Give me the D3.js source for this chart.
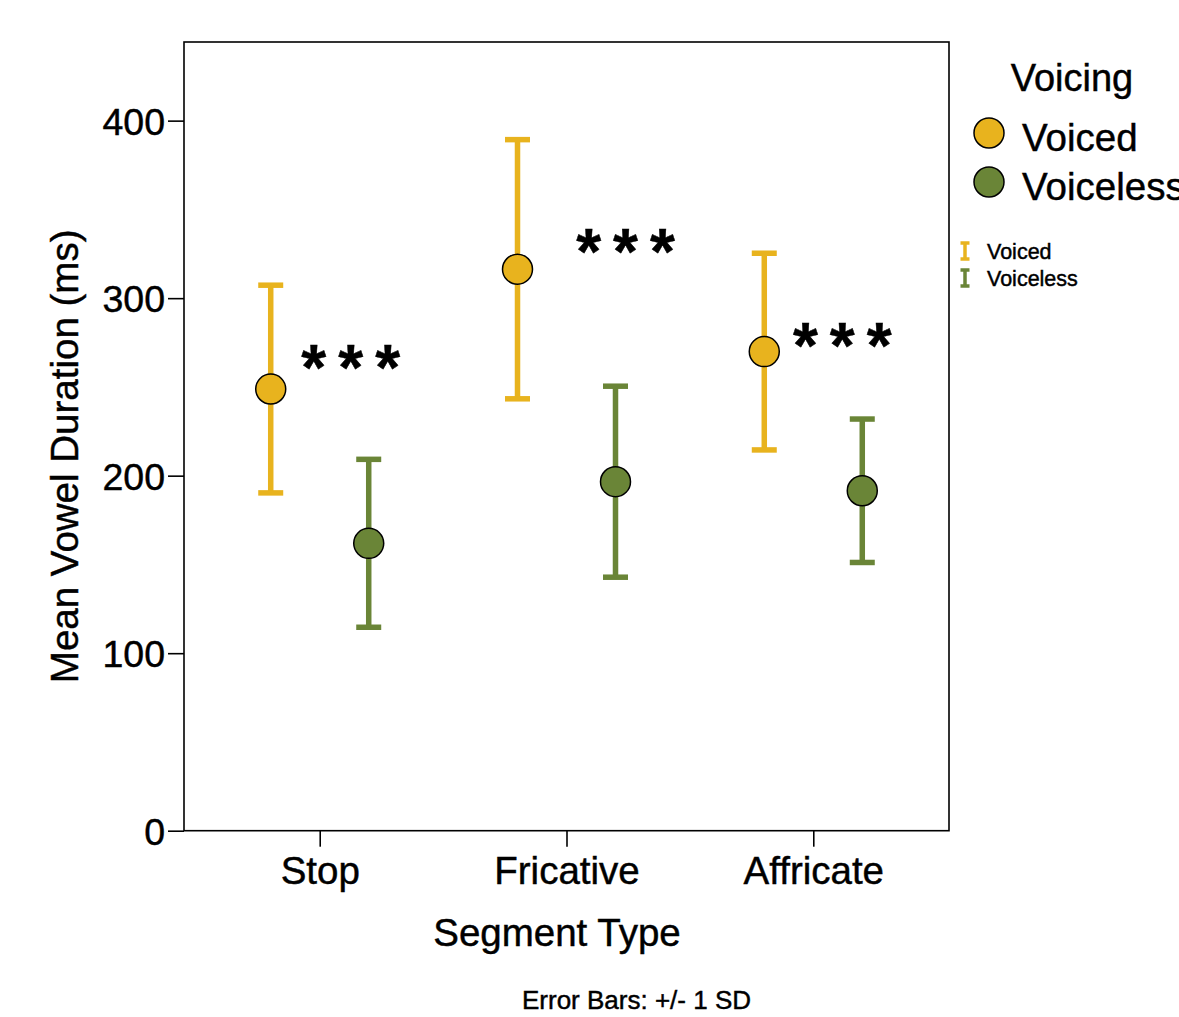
<!DOCTYPE html>
<html><head><meta charset="utf-8">
<script src="https://cdn.jsdelivr.net/npm/d3@7"></script>
<style>body{margin:0;background:#fff}text{font-family:"Liberation Sans",Arial,sans-serif;stroke:#000;stroke-width:0.45px}</style>
</head><body><svg id="c" width="1179" height="1017"></svg>
<script>
const categories = ["Stop", "Fricative", "Affricate"];
const series = ["Voiced", "Voiceless"];
const voicedMean = [248.8, 316.3, 269.9];
const voicedSD = [58.5, 73.0, 55.4];
const voicelessMean = [161.9, 196.6, 191.5];
const voicelessSD = [47.3, 53.8, 40.4];
const yTicks = [0, 100, 200, 300, 400];
const sigLabels = ["***", "***", "***"];
const sigY = [265, 330, 277.5];
const colors = {Voiced: "#E8B31E", Voiceless: "#6A8537"};

const svg = d3.select("#c");
const L = 184, R = 949, T = 42, B = 830.7;
const x = d3.scalePoint().domain(categories).range([L, R]).padding(0.55);
const xs = d3.scalePoint().domain(series).range([-49, 49]);
const y = d3.scaleLinear().domain([0, 444.3]).range([B, T]);

const data = [];
categories.forEach((c, i) => {
  data.push({cat: c, s: "Voiced", m: voicedMean[i], sd: voicedSD[i]});
  data.push({cat: c, s: "Voiceless", m: voicelessMean[i], sd: voicelessSD[i]});
});

// frame
svg.append("rect").attr("x", L).attr("y", T).attr("width", R - L).attr("height", B - T)
  .attr("fill", "none").attr("stroke", "#000").attr("stroke-width", 1.6);

const yAxis = svg.append("g").attr("transform", `translate(${L},0)`)
  .call(d3.axisLeft(y).tickValues(yTicks).tickSize(16).tickPadding(3).tickFormat(d3.format("d")));
yAxis.select(".domain").remove();
yAxis.selectAll("line").attr("stroke-width", 1.6);
yAxis.selectAll("text").attr("font-size", 37.5).attr("fill", "#000").attr("dy", "0.36em");

const xAxis = svg.append("g").attr("transform", `translate(0,${B})`)
  .call(d3.axisBottom(x).tickSize(16).tickPadding(10));
xAxis.select(".domain").remove();
xAxis.selectAll("line").attr("stroke-width", 1.6);
xAxis.selectAll("text").attr("font-size", 38.5).attr("fill", "#000");

svg.append("text").attr("transform", `translate(78,${(T + B) / 2 + 20}) rotate(-90)`)
  .attr("text-anchor", "middle").attr("font-size", 38.5).text("Mean Vowel Duration (ms)");
svg.append("text").attr("x", 557).attr("y", 946).attr("text-anchor", "middle")
  .attr("font-size", 38.5).text("Segment Type");
svg.append("text").attr("x", 636.5).attr("y", 1009).attr("text-anchor", "middle")
  .attr("font-size", 26).text("Error Bars: +/- 1 SD");

// error bars
const g = svg.append("g");
const cap = 12.5;
data.forEach(d => {
  const cx = x(d.cat) + xs(d.s);
  const col = colors[d.s];
  const top = y(d.m + d.sd), bot = y(d.m - d.sd);
  g.append("line").attr("x1", cx).attr("x2", cx).attr("y1", top).attr("y2", bot)
    .attr("stroke", col).attr("stroke-width", 5.5);
  [top, bot].forEach(yy => g.append("line").attr("x1", cx - cap).attr("x2", cx + cap)
    .attr("y1", yy).attr("y2", yy).attr("stroke", col).attr("stroke-width", 5.5));
});
data.forEach(d => {
  g.append("circle").attr("cx", x(d.cat) + xs(d.s)).attr("cy", y(d.m)).attr("r", 15)
    .attr("fill", colors[d.s]).attr("stroke", "#000").attr("stroke-width", 1.5);
});

// significance
const sigDx = [37, 65, 35];
categories.forEach((c, i) => {
  svg.append("text").attr("x", x(c) + sigDx[i]).attr("y", y(sigY[i]))
    .attr("text-anchor", "middle").attr("dy", "0.46em")
    .attr("font-family", "DejaVu Sans").attr("font-weight", "bold")
    .attr("font-size", 64).attr("letter-spacing", 12)
    .text(sigLabels[i]);
});

// legend
svg.append("text").attr("x", 1072).attr("y", 91).attr("text-anchor", "middle")
  .attr("font-size", 38).text("Voicing");
series.forEach((s, i) => {
  const yy = 133 + i * 49;
  svg.append("circle").attr("cx", 989).attr("cy", yy).attr("r", 15)
    .attr("fill", colors[s]).attr("stroke", "#000").attr("stroke-width", 1.5);
  svg.append("text").attr("x", 1022).attr("y", yy + 18).attr("font-size", 38.5).text(s);
});
series.forEach((s, i) => {
  const yy = 251 + i * 27;
  const gg = svg.append("g");
  gg.append("line").attr("x1", 965).attr("x2", 965).attr("y1", yy - 8).attr("y2", yy + 8)
    .attr("stroke", colors[s]).attr("stroke-width", 3.5);
  [yy - 8, yy + 8].forEach(v => gg.append("line").attr("x1", 960.5).attr("x2", 969.5)
    .attr("y1", v).attr("y2", v).attr("stroke", colors[s]).attr("stroke-width", 3.5));
  svg.append("text").attr("x", 987).attr("y", yy + 8).attr("font-size", 21.5).text(s);
});
</script></body></html>
